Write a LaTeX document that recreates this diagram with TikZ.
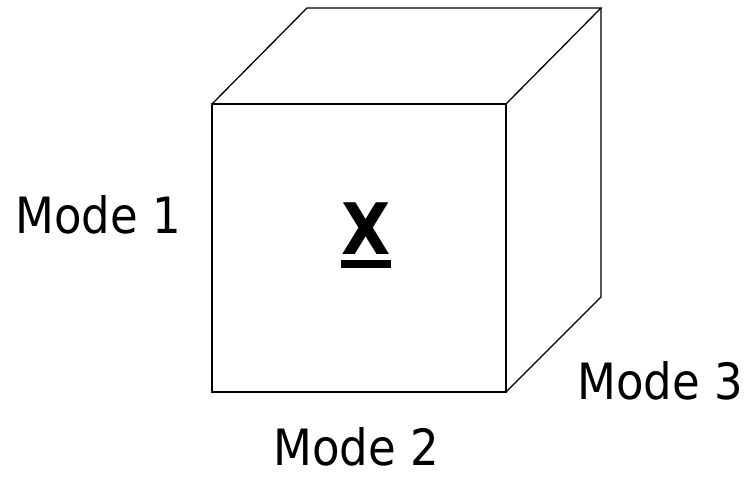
\documentclass[tikz,border=0pt]{standalone}
\usepackage{fontspec}
\setmainfont{DejaVu Sans Condensed}
\usepackage{tikz}

\begin{document}
\begin{tikzpicture}[x=1pt, y=-1pt, line width=1.3pt,
  modelabel/.style={anchor=base, inner sep=0pt, text depth=0pt, font=\fontsize{50}{50}\selectfont}]
\useasboundingbox (0,0) rectangle (752,478);
% front face
\draw (212,104) rectangle (506,392);
% top and side faces
\draw (212,104) -- (307,8) -- (601,8) -- (506,104);
\draw (601,8) -- (601,297) -- (506,392);
% tensor name
\node[anchor=base, inner sep=0pt, text depth=0pt, font=\fontsize{71}{71}\selectfont\bfseries] (tensor) at (366,255) {X};
\fill (341,260) rectangle (391,268);
% mode labels
\node[modelabel] (mode1) at (98,234) {Mode 1};
\node[modelabel] (mode2) at (356,465) {Mode 2};
\node[modelabel] (mode3) at (660,399) {Mode 3};
\end{tikzpicture}
\end{document}
